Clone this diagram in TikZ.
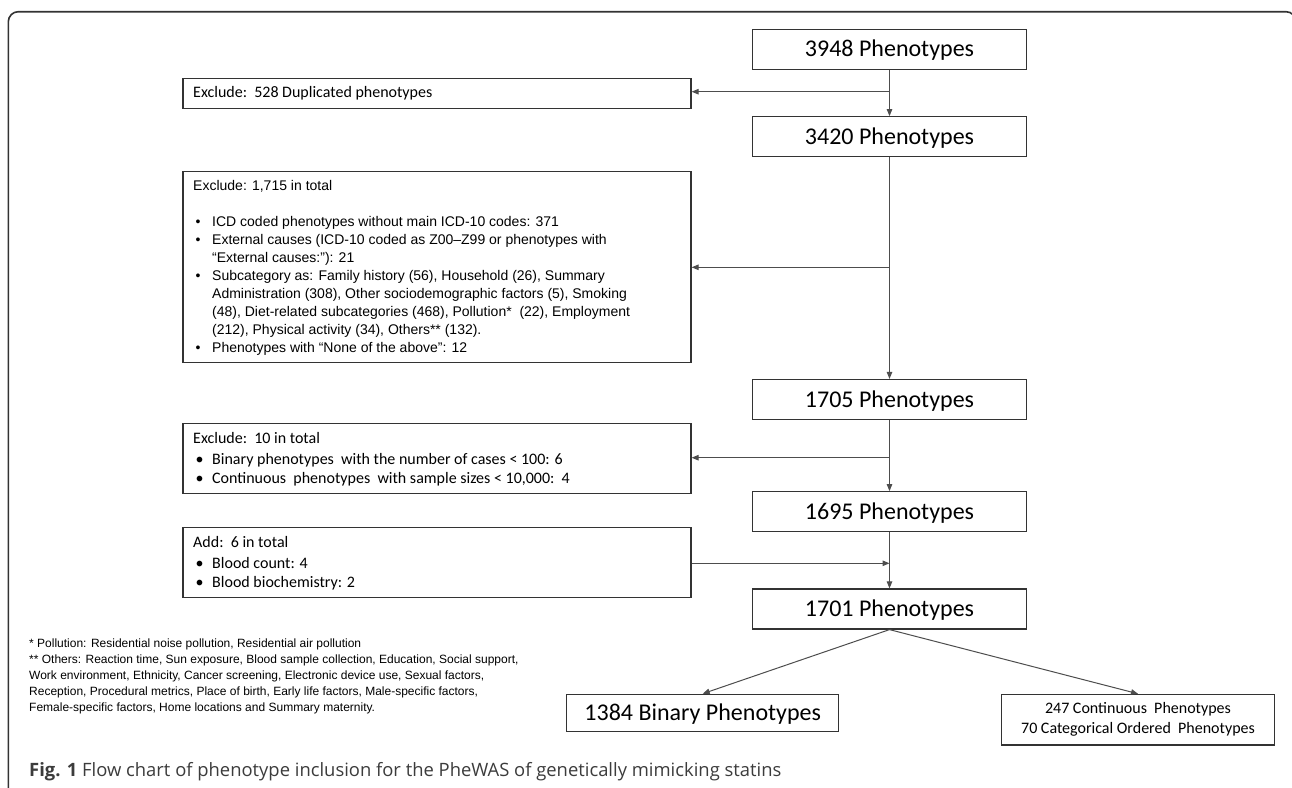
\documentclass[tikz,border=0pt]{standalone}
\usepackage{fontspec}
\setmainfont{Liberation Sans}
\newfontfamily\calf{Carlito}
\newfontfamily\arif{Liberation Sans}
\newfontfamily\capf{Open Sans}
\usetikzlibrary{arrows.meta}
\definecolor{boxline}{HTML}{333333}
\definecolor{conline}{HTML}{4D4D4D}
\definecolor{captxt}{HTML}{3C3C3C}
\begin{document}
\begin{tikzpicture}[x=1pt,y=-1pt,
 mainbox/.style={draw=boxline, line width=1.2pt, minimum width=274.4pt, minimum height=40pt, inner sep=0pt, font=\calf\fontsize{24}{28}\selectfont, text height=15.5pt, text depth=0pt},
 sidebox/.style={draw=boxline, line width=1.2pt, minimum width=508pt, inner sep=0pt},
 txt/.style={anchor=base west, inner sep=0pt},
 fs/.style={font=\arif\fontsize{14}{17}\selectfont},
 fc/.style={font=\calf\fontsize{16}{18}\selectfont},
 fn/.style={font=\arif\fontsize{12}{14}\selectfont},
 conn/.style={draw=conline, line width=1pt},
 arr/.style={conn, -{Triangle[length=7pt,width=5.5pt]}},
]
\useasboundingbox (0,0) rectangle (1292,787);
\fill[white] (0,0) rectangle (1292,787);
\draw[boxline, line width=1.6pt, rounded corners=10pt] (8.3,820) -- (8.3,11.7) -- (1296,11.7) -- (1296,820);

% main column
\node[mainbox] (p3948) at (889.5,49.2) {3948 Phenotypes};
\node[mainbox] (p3420) at (889.5,136.7) {3420 Phenotypes};
\node[mainbox] (p1705) at (889.5,399.5) {1705 Phenotypes};
\node[mainbox] (p1695) at (889.5,511.7) {1695 Phenotypes};
\node[mainbox] (p1701) at (889.5,609) {1701 Phenotypes};
\node[mainbox, minimum width=272pt, minimum height=37.4pt] (bin) at (702.7,713) {1384 Binary Phenotypes};
\node[draw=boxline, line width=1.2pt, minimum width=272.6pt, minimum height=50.7pt, inner sep=0pt, align=center, font=\calf\fontsize{16}{20}\selectfont] (cont) at (1138,719.7) {247 Continuous\ \ Phenotypes\\70 Categorical Ordered\ \ Phenotypes};

% side boxes
\node[sidebox, minimum height=30pt] (ex528) at (437,93.3) {};
\node[sidebox, minimum height=191pt] (ex1715) at (437,267.2) {};
\node[sidebox, minimum height=70pt] (ex10) at (437,458.3) {};
\node[sidebox, minimum height=70pt] (add) at (437,562.3) {};

% texts of side boxes
\node[txt, fc] (t528) at (193,97.3) {Exclude:\ \ 528 Duplicated phenotypes};

\node[txt, fs] (t1715) at (193,190.2) {Exclude: 1,715 in total};
\node[txt, fs] (b1) at (195.5,226.2) {•};
\node[txt, fs] (l1) at (212,226.2) {ICD coded phenotypes without main ICD-10 codes: 371};
\node[txt, fs] (b2) at (195.5,244.2) {•};
\node[txt, fs] (l2) at (212,244.2) {External causes (ICD-10 coded as Z00–Z99 or phenotypes with};
\node[txt, fs] (l3) at (212,262.2) {“External causes:”): 21};
\node[txt, fs] (b4) at (195.5,280.2) {•};
\node[txt, fs] (l4) at (212,280.2) {Subcategory as: Family history (56), Household (26), Summary};
\node[txt, fs] (l5) at (212,298.2) {Administration (308), Other sociodemographic factors (5), Smoking};
\node[txt, fs] (l6) at (212,316.2) {(48), Diet-related subcategories (468), Pollution*\ \ (22), Employment};
\node[txt, fs] (l7) at (212,334.2) {(212), Physical activity (34), Others** (132).};
\node[txt, fs] (b8) at (195.5,352.2) {•};
\node[txt, fs] (l8) at (212,352.2) {Phenotypes with “None of the above”: 12};

\node[txt, fc] (t10) at (193,443.3) {Exclude:\ \ 10 in total};
\node[txt, fc] (b10a) at (195.5,464) {•};
\node[txt, fc] (l10a) at (212,464) {Binary phenotypes\ \ with the number of cases < 100: 6};
\node[txt, fc] (b10b) at (195.5,483.3) {•};
\node[txt, fc] (l10b) at (212,483.3) {Continuous\ \ phenotypes\ \ with sample sizes < 10,000:\ \ 4};

\node[txt, fc] (tadd) at (193,547.7) {Add:\ \ 6 in total};
\node[txt, fc] (bada) at (195.5,568.3) {•};
\node[txt, fc] (lada) at (212,568.3) {Blood count: 4};
\node[txt, fc] (badb) at (195.5,587.3) {•};
\node[txt, fc] (ladb) at (212,587.3) {Blood biochemistry: 2};

% connectors
\draw[arr] (p3948) -- (p3420);
\coordinate (j1) at (889.5,91.7);
\draw[arr] (j1) -- (j1 -| ex528.east);
\draw[arr] (p3420) -- (p1705);
\coordinate (j2) at (889.5,267.3);
\draw[arr] (j2) -- (j2 -| ex1715.east);
\draw[arr] (p1705) -- (p1695);
\coordinate (j3) at (889.5,457.7);
\draw[arr] (j3) -- (j3 -| ex10.east);
\draw[arr] (p1695) -- (p1701);
\coordinate (j4) at (889.5,563.3);
\draw[arr] (j4 -| add.east) -- (j4);
\draw[arr] (p1701.south) -- (bin.north);
\draw[arr] (p1701.south) -- (cont.north);

% footnotes
\node[txt, fn] (f1) at (29,647) {* Pollution: Residential noise pollution, Residential air pollution};
\node[txt, fn] (f2) at (29,663.5) {** Others: Reaction time, Sun exposure, Blood sample collection, Education, Social support,};
\node[txt, fn] (f3) at (29,679.5) {Work\ environment, Ethnicity, Cancer screening, Electronic device use, Sexual factors,};
\node[txt, fn] (f4) at (29,695.3) {Reception, Procedural metrics, Place of birth, Early life factors, Male-specific factors,};
\node[txt, fn] (f5) at (29,711) {Female-specific factors, Home locations and Summary maternity.};

% caption
\node[txt, font=\capf\fontsize{18.4}{21}\selectfont, text=captxt] (cap) at (29,776.7) {\textbf{Fig. 1} Flow chart of phenotype inclusion for the PheWAS of genetically mimicking statins};
\end{tikzpicture}
\end{document}
